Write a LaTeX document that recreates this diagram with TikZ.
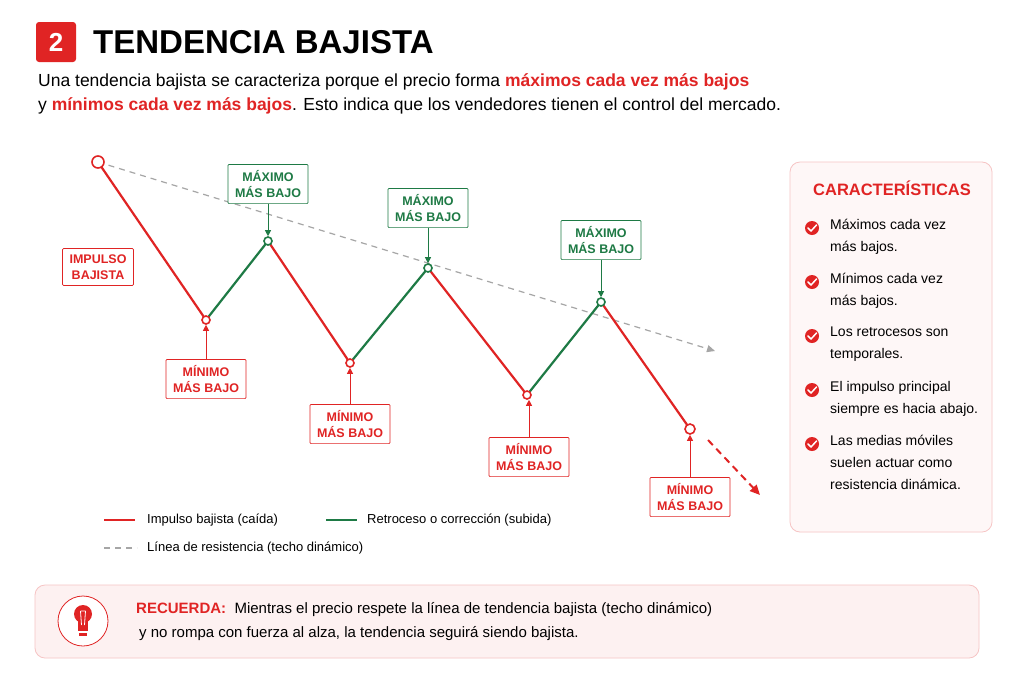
\documentclass[tikz,border=0pt]{standalone}
\usepackage{fontspec}
\setmainfont{Liberation Sans}
\usetikzlibrary{arrows.meta}
\definecolor{rd}{HTML}{E02424}
\definecolor{gr}{HTML}{1E7A45}
\definecolor{pk}{HTML}{FDF1F1}
\definecolor{pkb}{HTML}{F6C4C4}
\begin{document}
\begin{tikzpicture}[x=1pt,y=-1pt,
 redl/.style={rd,line width=2.2pt},
 grl/.style={gr,line width=2.2pt},
 pt/.style={circle,draw=#1,fill=white,line width=1.6pt,inner sep=0pt,minimum size=8pt},
 minbox/.style={draw=rd,fill=white,text=rd,font=\fontsize{12.5}{16}\selectfont\bfseries,align=center,inner xsep=7pt,inner ysep=6pt,rounded corners=1pt,line width=0.7pt},
 maxbox/.style={draw=gr,fill=white,text=gr,font=\fontsize{12.5}{16}\selectfont\bfseries,align=center,inner xsep=7pt,inner ysep=6pt,rounded corners=1pt,line width=0.7pt},
 arr/.style={-{Triangle[length=6pt,width=6pt]},line width=1pt},
 chk/.style={circle,fill=rd,inner sep=0pt,minimum size=14pt},
 itm/.style={anchor=north west,align=left,font=\fontsize{14}{22}\selectfont,inner sep=0pt},
 lg/.style={anchor=west,font=\fontsize{13}{15}\selectfont,inner sep=0pt}]
\useasboundingbox (0,0) rectangle (1024,683);
\fill[white] (0,0) rectangle (1024,683);
% title
\node[fill=rd,rounded corners=3pt,minimum size=40pt,text=white,font=\fontsize{26}{28}\selectfont\bfseries] (num) at (56,42) {2};
\node[anchor=west,font=\fontsize{33}{35}\selectfont\bfseries,inner sep=0pt] (title) at (93,42) {TENDENCIA BAJISTA};
\node[anchor=west,font=\fontsize{17.5}{19}\selectfont,inner sep=0pt] (s1) at (38,82) {Una tendencia bajista se caracteriza porque el precio forma \textcolor{rd}{\bfseries máximos cada vez más bajos}};
\node[anchor=west,font=\fontsize{17.5}{19}\selectfont,inner sep=0pt] (s2) at (38,106) {y \textcolor{rd}{\bfseries mínimos cada vez más bajos}. Esto indica que los vendedores tienen el control del mercado.};
% resistance
\coordinate (r0) at (98,162); \coordinate (r1) at (715,351);
\draw[gray!70,line width=1.2pt,dash pattern=on 6pt off 5pt,-{Triangle[length=8pt,width=7pt]}] (r0) -- (r1);
% price
\coordinate (p0) at (98,162); \coordinate (p1) at (206,320); \coordinate (p2) at (268,241);
\coordinate (p3) at (350,363); \coordinate (p4) at (428,268); \coordinate (p5) at (527,395);
\coordinate (p6) at (601,302); \coordinate (p7) at (690,429);
\draw[redl] (p0)--(p1); \draw[grl] (p1)--(p2); \draw[redl] (p2)--(p3); \draw[grl] (p3)--(p4);
\draw[redl] (p4)--(p5); \draw[grl] (p5)--(p6); \draw[redl] (p6)--(p7);
\coordinate (d0) at (708,440); \coordinate (d1) at (760,495);
\draw[rd,line width=2pt,dash pattern=on 7pt off 5pt,-{Triangle[length=10pt,width=9pt]}] (d0)--(d1);
\node[pt=rd,minimum size=12pt] (n0) at (p0) {};
\node[pt=rd,minimum size=10pt] (n7) at (p7) {};
\foreach \i in {1,3,5} \node[pt=rd] (n\i) at (p\i) {};
\foreach \i in {2,4,6} \node[pt=gr] (n\i) at (p\i) {};
% labels
\node[minbox] (imp) at (98,267) {IMPULSO\\BAJISTA};
\node[minbox] (m1) at (206,379) {MÍNIMO\\MÁS BAJO};
\node[minbox] (m2) at (350,424) {MÍNIMO\\MÁS BAJO};
\node[minbox] (m3) at (529,457) {MÍNIMO\\MÁS BAJO};
\node[minbox] (m4) at (690,497) {MÍNIMO\\MÁS BAJO};
\node[maxbox] (x1) at (268,184) {MÁXIMO\\MÁS BAJO};
\node[maxbox] (x2) at (428,208) {MÁXIMO\\MÁS BAJO};
\node[maxbox] (x3) at (601,240) {MÁXIMO\\MÁS BAJO};
\draw[arr,rd] (m1.north) -- (m1.north |- n1.south);
\draw[arr,rd] (m2.north) -- (m2.north |- n3.south);
\draw[arr,rd] (m3.north) -- (m3.north |- n5.south);
\draw[arr,rd] (m4.north) -- (m4.north |- n7.south);
\draw[arr,gr] (x1.south) -- (x1.south |- n2.north);
\draw[arr,gr] (x2.south) -- (x2.south |- n4.north);
\draw[arr,gr] (x3.south) -- (x3.south |- n6.north);
% legend
\coordinate (l1a) at (104,520); \coordinate (l1b) at (135,520);
\draw[redl] (l1a)--(l1b); \node[lg] (lt1) at (147,520) {Impulso bajista (caída)};
\coordinate (l2a) at (326,520); \coordinate (l2b) at (357,520);
\draw[grl] (l2a)--(l2b); \node[lg] (lt2) at (367,520) {Retroceso o corrección (subida)};
\coordinate (l3a) at (104,548); \coordinate (l3b) at (137,548);
\draw[gray!70,line width=1.2pt,dash pattern=on 6pt off 5pt] (l3a)--(l3b); \node[lg] (lt3) at (147,548) {Línea de resistencia (techo dinámico)};
% panel
\draw[draw=pkb,fill=pk!60,rounded corners=10pt,line width=0.8pt] (790,162) rectangle (992,532);
\node[text=rd,font=\fontsize{16.5}{18}\selectfont\bfseries] (ct) at (892,188) {CARACTERÍSTICAS};
\foreach \y/\t in {228/{Máximos cada vez\\más bajos.},282/{Mínimos cada vez\\más bajos.},336/{Los retrocesos son\\temporales.},390/{El impulso principal\\siempre es hacia abajo.},444/{Las medias móviles\\suelen actuar como\\resistencia dinámica.}}{
 \node[chk] at (812,\y) {};
 \draw[white,line width=1.5pt,line cap=round,line join=round] (808,\y) -- (811,\y+3) -- (816.5,\y-3);
 \node[itm] at (830,\y-9) {\t};
}
% bottom
\draw[draw=pkb,fill=pk,rounded corners=10pt,line width=0.8pt] (35,585) rectangle (979,658);
\node[circle,draw=rd,fill=white,line width=0.8pt,minimum size=50pt] (ic) at (83,621) {};
\fill[rd] (83,614) circle (9pt);
\fill[rd] (78,620) rectangle (88,631);
\fill[rd] (79,633) rectangle (87,635.5);
\draw[white,line width=0.8pt] (80.5,611) -- (81.5,625) (85.5,611) -- (84.5,625) (80.5,611)--(85.5,611);
\node[anchor=west,inner sep=0pt,font=\fontsize{15}{17}\selectfont] (rt1) at (136,610) {\textcolor{rd}{\bfseries RECUERDA:}\ \ Mientras el precio respete la línea de tendencia bajista (techo dinámico)};
\node[anchor=west,inner sep=0pt,font=\fontsize{15}{17}\selectfont] (rt2) at (139,634) {y no rompa con fuerza al alza, la tendencia seguirá siendo bajista.};
\end{tikzpicture}
\end{document}
